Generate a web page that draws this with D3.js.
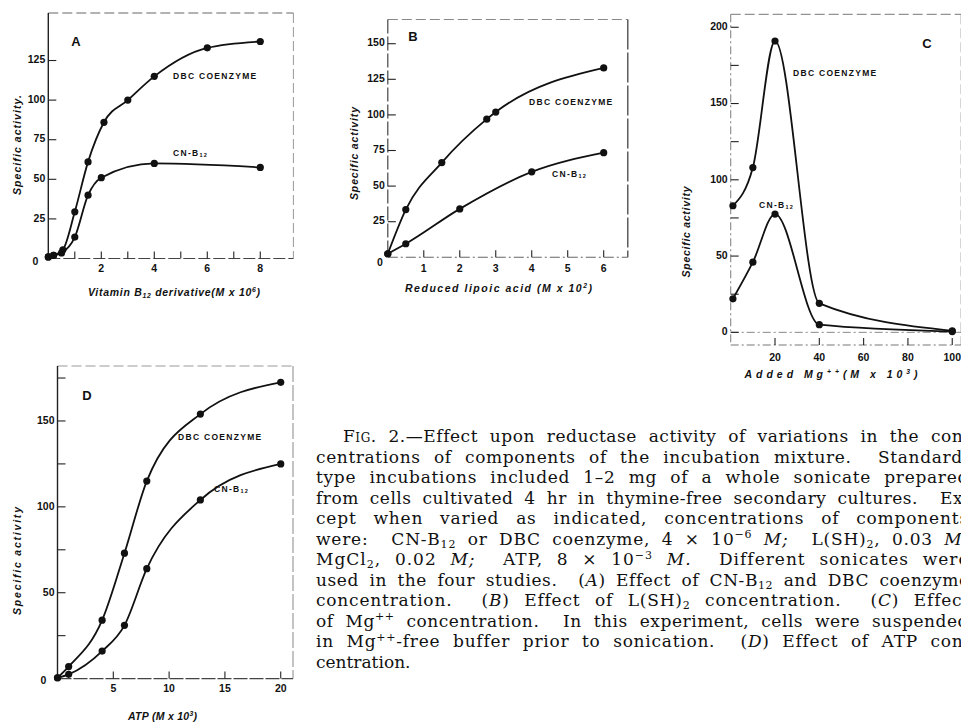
<!DOCTYPE html>
<html>
<head>
<meta charset="utf-8">
<script src="https://cdn.jsdelivr.net/npm/d3@7"></script>
<style>
body { margin: 0; background: #fff; width: 961px; height: 722px; overflow: hidden; }
svg { display: block; }
.tick { font-family: "Liberation Sans", Arial, sans-serif; font-weight: bold; font-size: 10.5px; fill: #111; }
.lab { font-family: "Liberation Sans", Arial, sans-serif; font-weight: bold; font-size: 8.5px; fill: #111; letter-spacing: 1.3px; }
.letter { font-family: "Liberation Sans", Arial, sans-serif; font-weight: bold; font-size: 13px; fill: #111; }
.title { font-family: "Liberation Sans", Arial, sans-serif; font-weight: bold; font-style: italic; font-size: 10.5px; fill: #111; }
.cap { font-family: "DejaVu Serif", serif; font-size: 17px; fill: #111; }
</style>
</head>
<body>
<script>
// ---- A: vitamin B12 derivative (M x 10^6)
var aDbcX = [0, 0.2, 0.55, 1, 1.5, 2.1, 3, 4, 6, 8];
var aDbcY = [1, 2, 5.5, 29.5, 61, 86, 100, 115, 133, 137];
var aCnX  = [0, 0.2, 0.5, 1, 1.5, 2, 4, 8];
var aCnY  = [1, 2, 3.5, 13.5, 40, 51, 60, 57.5];
var aXTicks = [1, 2, 3, 4, 5, 6, 7, 8];
var aXLabels = [2, 4, 6, 8];
var aYTicks = [25, 50, 75, 100, 125];

// ---- B: reduced lipoic acid (M x 10^2)
var bDbcX = [0, 0.5, 1.5, 2.75, 3, 6];
var bDbcY = [2.5, 33.5, 66.5, 97, 102, 133];
var bCnX  = [0, 0.5, 2, 4, 6];
var bCnY  = [2.5, 9.5, 34, 60, 73.5];
var bXTicks = [1, 2, 3, 4, 5, 6];
var bYTicks = [25, 50, 75, 100, 125, 150];

// ---- C: added Mg++ (M x 10^3)
var cDbcX = [1, 10, 20, 40, 100];
var cDbcY = [83, 108, 191, 19, 1];
var cCnX  = [1, 10, 20, 40, 100];
var cCnY  = [22, 46, 77.5, 5, 0.5];
var cXTicks = [20, 40, 60, 80, 100];
var cYTicks = [0, 25, 50, 75, 100, 125, 150, 175, 200];
var cYLabels = [0, 50, 100, 150, 200];

// ---- D: ATP (M x 10^3)
var dDbcX = [0, 1, 4, 6, 8, 12.8, 20];
var dDbcY = [0.5, 7, 34, 73, 115, 154, 172.5];
var dCnX  = [0, 1, 4, 6, 8, 12.8, 20];
var dCnY  = [0.5, 2.5, 16, 31, 64, 104, 125];
var dXTicks = [5, 10, 15, 20];
var dYTicks = [25, 50, 75, 100, 125, 150, 175];
var dYLabels = [50, 100, 150];

var caption = [
    "~Fig.~ 2.—Effect upon reductase activity of variations in the con-",
    "centrations of components of the incubation mixture.  Standard-",
    "type incubations included 1–2 mg of a whole sonicate prepared",
    "from cells cultivated 4 hr in thymine-free secondary cultures.  Ex-",
    "cept when varied as indicated, concentrations of components",
    "were:  CN-B_{12} or DBC coenzyme, 4 × 10^{−6} *M;*  L(SH)_{2}, 0.03 *M;*",
    "MgCl_{2}, 0.02 *M;*  ATP, 8 × 10^{−3} *M.*  Different sonicates were",
    "used in the four studies.  (*A*) Effect of CN-B_{12} and DBC coenzyme",
    "concentration.  (*B*) Effect of L(SH)_{2} concentration.  (*C*) Effect",
    "of Mg^{++} concentration.  In this experiment, cells were suspended",
    "in Mg^{++}-free buffer prior to sonication.  (*D*) Effect of ATP con-",
    "centration."
];

var svg = d3.select("body").append("svg").attr("width", 961).attr("height", 722);

// text with sub/superscripts, italics and small caps
function rich(text, str, size)
{
    var parts = str.split(/(_\{[^}]*\}|\^\{[^}]*\}|\*[^*]*\*|~[^~]*~)/).filter(function (s) { return s; });
    var shift = 0;
    parts.forEach(function (p)
    {
        var t = text.append("tspan"), s = 0, txt = p;
        if (p[0] === "_") { s = size * 0.2; txt = p.slice(2, -1); t.attr("font-size", size * 0.65); }
        else if (p[0] === "^") { s = -size * 0.36; txt = p.slice(2, -1); t.attr("font-size", size * 0.65); }
        else if (p[0] === "*") { txt = p.slice(1, -1); t.attr("font-style", "italic"); }
        else if (p[0] === "~") { txt = p.slice(1, -1); t.attr("font-variant", "small-caps"); }
        t.attr("dy", s - shift).text(txt);
        shift = s;
    });
    return text;
}

function line(g, x1, y1, x2, y2, color, width, dash)
{
    g.append("line").attr("x1", x1).attr("y1", y1).attr("x2", x2).attr("y2", y2)
        .attr("stroke", color).attr("stroke-width", width).attr("stroke-dasharray", dash || null);
}

function panel(p)
{
    var g = svg.append("g");
    var x = p.x, y = p.y;
    var x0 = x.range()[0], x1 = x.range()[1], yb = y.range()[0], yt = y.range()[1];

    // frame
    line(g, x0, yt, x1, yt, p.topColor, 1, "10,4");
    line(g, x1, yt, x1, yb, p.rightColor, p.rightWidth, p.rightDash);
    line(g, x0, yb, x1, yb, p.bottomColor, 1.1, p.bottomDash);
    line(g, x0, yt, x0, yb, p.leftColor, p.leftWidth, p.leftDash);
    if (p.zeroLine) line(g, x0, y(0), x1, y(0), "#888", 1, "8,3,2,3");

    // ticks
    p.xTicks.forEach(function (v) { line(g, x(v), yb, x(v), yb - 7, "#222", 1.1); });
    p.yTicks.forEach(function (v) { line(g, x0, y(v), x0 + 8, y(v), "#222", 1.1); });

    g.selectAll(".xl").data(p.xLabels).enter().append("text").attr("class", "tick")
        .attr("x", function (d) { return x(d); }).attr("y", yb + p.xLabelGap)
        .attr("text-anchor", "middle").attr("dominant-baseline", "middle").text(function (d) { return d; });
    g.selectAll(".yl").data(p.yLabels).enter().append("text").attr("class", "tick")
        .attr("x", x0 - 3).attr("y", function (d) { return y(d); })
        .attr("text-anchor", "end").attr("dominant-baseline", "middle").text(function (d) { return d; });
    if (p.corner) {
        g.append("text").attr("class", "tick").attr("x", x0 + p.corner[0]).attr("y", yb + p.corner[1])
            .attr("text-anchor", "middle").attr("dominant-baseline", "middle").text("0");
    }

    // curves and points
    var path = d3.line().x(function (d) { return x(d[0]); }).y(function (d) { return y(d[1]); })
        .curve(d3.curveMonotoneX);
    p.series.forEach(function (s)
    {
        var pts = d3.zip(s[0], s[1]);
        g.append("path").attr("d", path(pts)).attr("fill", "none")
            .attr("stroke", "#111").attr("stroke-width", 1.8);
        g.selectAll(null).data(pts).enter().append("circle")
            .attr("cx", function (d) { return x(d[0]); }).attr("cy", function (d) { return y(d[1]); })
            .attr("r", 3.6).attr("fill", "#111");
    });

    // labels
    g.append("text").attr("class", "letter").attr("x", p.letter[1]).attr("y", p.letter[2])
        .attr("text-anchor", "middle").attr("dominant-baseline", "middle").text(p.letter[0]);
    g.append("text").attr("class", "lab").attr("x", p.dbc[0]).attr("y", p.dbc[1]).text("DBC COENZYME");
    rich(g.append("text").attr("class", "lab").attr("x", p.cn[0]).attr("y", p.cn[1]), "CN-B_{12}", 8.5);

    rich(g.append("text").attr("class", "title").attr("x", p.xTitle[1]).attr("y", p.xTitle[2])
        .attr("text-anchor", "middle").attr("textLength", p.xTitle[3]).attr("lengthAdjust", "spacing"), p.xTitle[0], 10.5);
    g.append("text").attr("class", "title")
        .attr("transform", "translate(" + p.yTitle[0] + "," + p.yTitle[1] + ") rotate(-90)")
        .attr("text-anchor", "middle").attr("textLength", p.yTitle[2]).attr("lengthAdjust", "spacing")
        .text(p.yTitle[3]);
}

panel({
    x: d3.scaleLinear().domain([0, 9.25]).range([48.3, 293.4]),
    y: d3.scaleLinear().domain([0, 155]).range([258.5, 13]),
    xTicks: aXTicks, xLabels: aXLabels, yTicks: aYTicks, yLabels: aYTicks, xLabelGap: 11,
    corner: [-13, 4],
    series: [[aDbcX, aDbcY], [aCnX, aCnY]],
    topColor: "#666", rightColor: "#999", rightWidth: 1, rightDash: "10,4",
    bottomColor: "#444", bottomDash: "12,3", leftColor: "#222", leftWidth: 1.4, leftDash: null,
    letter: ["A", 76, 43], dbc: [173, 79], cn: [173, 155.5],
    xTitle: ["Vitamin B_{12} derivative(M x 10^{6})", 174, 296, 172],
    yTitle: [21, 145, 100, "Specific activity."]
});

panel({
    x: d3.scaleLinear().domain([0, 6.67]).range([387.8, 627.8]),
    y: d3.scaleLinear().domain([0, 167]).range([257.3, 19.5]),
    xTicks: bXTicks, xLabels: bXTicks, yTicks: bYTicks, yLabels: bYTicks, xLabelGap: 12,
    corner: [-8, 6],
    series: [[bDbcX, bDbcY], [bCnX, bCnY]],
    topColor: "#888", rightColor: "#444", rightWidth: 1.3, rightDash: "30,3",
    bottomColor: "#666", bottomDash: "10,3,2,3", leftColor: "#444", leftWidth: 1.2, leftDash: "14,3",
    letter: ["B", 413, 38], dbc: [529, 105], cn: [552, 176.5],
    xTitle: ["Reduced  lipoic acid  (M x 10^{2})", 498.5, 292, 187],
    yTitle: [358, 153.5, 93, "Specific activity"]
});

panel({
    x: d3.scaleLinear().domain([0, 104]).range([730.7, 961.1]),
    y: d3.scaleLinear().domain([-8.3, 208.5]).range([345, 14.3]),
    xTicks: cXTicks, xLabels: cXTicks, yTicks: cYTicks, yLabels: cYLabels, xLabelGap: 13,
    corner: null, zeroLine: true,
    series: [[cDbcX, cDbcY], [cCnX, cCnY]],
    topColor: "#777", rightColor: "#999", rightWidth: 1, rightDash: "10,4",
    bottomColor: "#777", bottomDash: "8,3,2,3", leftColor: "#888", leftWidth: 1.1, leftDash: "8,3,2,3",
    letter: ["C", 927, 45], dbc: [793, 76], cn: [759, 207.5],
    xTitle: ["Added  Mg^{++}(M x 10^{3})", 831, 378, 173],
    yTitle: [690, 232, 91, "Specific activity"]
});

panel({
    x: d3.scaleLinear().domain([0, 21.1]).range([57.5, 293]),
    y: d3.scaleLinear().domain([0, 182]).range([678.6, 366]),
    xTicks: dXTicks, xLabels: dXTicks, yTicks: dYTicks, yLabels: dYLabels, xLabelGap: 11,
    corner: [-14, 3],
    series: [[dDbcX, dDbcY], [dCnX, dCnY]],
    topColor: "#999", rightColor: "#888", rightWidth: 1, rightDash: "16,3",
    bottomColor: "#444", bottomDash: "14,2", leftColor: "#222", leftWidth: 1.4, leftDash: null,
    letter: ["D", 87, 397], dbc: [178, 440], cn: [214, 491.5],
    xTitle: ["ATP (M  x  10^{3})", 162.5, 720, 69],
    yTitle: [21, 561, 108, "Specific activity"]
});

// caption, justified line by line (part of the slack between words, part between letters)
var capLeft = 316, capRight = 969, capTop = 442, capStep = 20.5;
caption.forEach(function (str, i)
{
    var x = i === 0 ? capLeft + 27 : capLeft;
    var t = rich(svg.append("text").attr("class", "cap").attr("x", x).attr("y", capTop + i * capStep)
        .attr("xml:space", "preserve"), str, 17);
    if (i < caption.length - 1) {
        var natural = t.node().getComputedTextLength();
        var plain = str.replace(/[_^]\{|[{}*~]/g, "");
        var spaces = (plain.match(/ /g) || []).length;
        var slack = Math.max(0, capRight - x - natural);
        t.style("letter-spacing", (slack * 0.4 / plain.length) + "px")
         .style("word-spacing", (slack * 0.6 / spaces) + "px");
    }
});
</script>
</body>
</html>
